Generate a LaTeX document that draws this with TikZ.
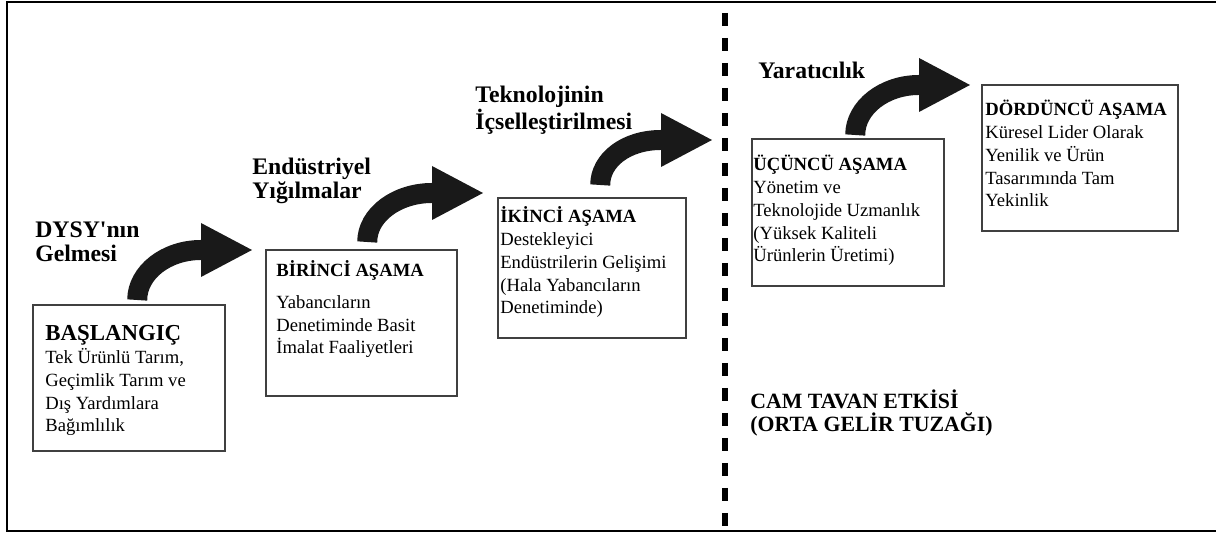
\documentclass[tikz,border=0pt]{standalone}
\usepackage{fontspec}
\setmainfont{Liberation Serif}
\usetikzlibrary{arrows.meta, calc}

\begin{document}
\begin{tikzpicture}[
    stagebox/.style={draw=black!75, line width=1.4pt, anchor=north west, inner sep=0pt},
    boxtext/.style={anchor=base west, align=left, inner sep=0pt, font=\fontsize{10.6}{13}\selectfont},
    steplabel/.style={anchor=base west, align=left, inner sep=0pt, font=\fontsize{13.5}{14.2}\selectfont\bfseries},
    jump/.style={line width=0.4cm, black!90, -{Triangle[length=1.02cm, width=1.08cm, line width=0pt]}}
]
\useasboundingbox (0,0) rectangle (24.32,10.66);
% Frame
\draw[line width=1.1pt] (24.6,10.62) -- (0.14,10.62) -- (0.14,0.04) -- (24.6,0.04);
% Dotted divider
\draw[line width=0.12cm, dash pattern=on 0.26cm off 0.24cm] (14.5,10.40) -- (14.5,0.10);
% Stage boxes
\node[stagebox, minimum width=3.84cm, minimum height=2.92cm] (s0) at (0.64,4.58) {};
\node[stagebox, minimum width=3.82cm, minimum height=2.92cm] (s1) at (5.30,5.68) {};
\node[stagebox, minimum width=3.76cm, minimum height=2.80cm] (s2) at (9.94,6.72) {};
\node[stagebox, minimum width=3.84cm, minimum height=2.94cm] (s3) at (15.02,7.90) {};
\node[stagebox, minimum width=3.92cm, minimum height=2.92cm] (s4) at (19.62,8.98) {};
% Box texts (placed by their last line)
\node[boxtext] (s0t) at (0.90,2.02) {{\fontsize{13}{13}\selectfont\bfseries BAŞLANGIÇ}\\Tek Ürünlü Tarım,\\Geçimlik Tarım ve\\Dış Yardımlara\\Bağımlılık};
\node[boxtext] (s1t) at (5.52,3.58) {\textbf{BİRİNCİ AŞAMA}\\[5pt]Yabancıların\\Denetiminde Basit\\İmalat Faaliyetleri};
\node[boxtext] (s2t) at (10.00,4.38) {\textbf{İKİNCİ AŞAMA}\\Destekleyici\\Endüstrilerin Gelişimi\\(Hala Yabancıların\\Denetiminde)};
\node[boxtext] (s3t) at (15.06,5.42) {\textbf{ÜÇÜNCÜ AŞAMA}\\Yönetim ve\\Teknolojide Uzmanlık\\(Yüksek Kaliteli\\Ürünlerin Üretimi)};
\node[boxtext] (s4t) at (19.70,6.52) {\textbf{DÖRDÜNCÜ AŞAMA}\\Küresel Lider Olarak\\Yenilik ve Ürün\\Tasarımında Tam\\Yekinlik};
% Step labels
\node[steplabel] (l0) at (0.70,5.42) {DYSY\textquotesingle nın\\Gelmesi};
\node[steplabel] (l1) at (5.04,6.68) {Endüstriyel\\Yığılmalar};
\node[steplabel] (l2) at (9.50,8.06) {Teknolojinin\\İçselleştirilmesi};
\node[steplabel] (l3) at (15.16,9.08) {Yaratıcılık};
\node[steplabel, font=\fontsize{12.4}{13.6}\selectfont\bfseries] (l4) at (15.00,2.02) {CAM TAVAN ETKİSİ\\(ORTA GELİR TUZAĞI)};
% Arrow tips
\coordinate (c1) at (5.04,5.66);
\coordinate (c2) at (9.66,6.80);
\coordinate (c3) at (14.24,7.86);
\coordinate (c4) at (19.40,8.96);
% Arrows
\draw[jump] ($(s0.north)+(0.16,0.08)$) .. controls +(0,0.55) and +(-0.7,0) .. ($(c1)+(-1.02,0)$) -- (c1);
\draw[jump] ($(s1.north)+(0.11,0.14)$) .. controls +(0,0.55) and +(-0.7,0) .. ($(c2)+(-1.02,0)$) -- (c2);
\draw[jump] ($(s2.north)+(0.16,0.24)$) .. controls +(0,0.5) and +(-0.7,0) .. ($(c3)+(-1.02,0)$) -- (c3);
\draw[jump] ($(s3.north)+(0.14,0.06)$) .. controls +(0,0.55) and +(-0.7,0) .. ($(c4)+(-1.02,0)$) -- (c4);
\end{tikzpicture}
\end{document}
